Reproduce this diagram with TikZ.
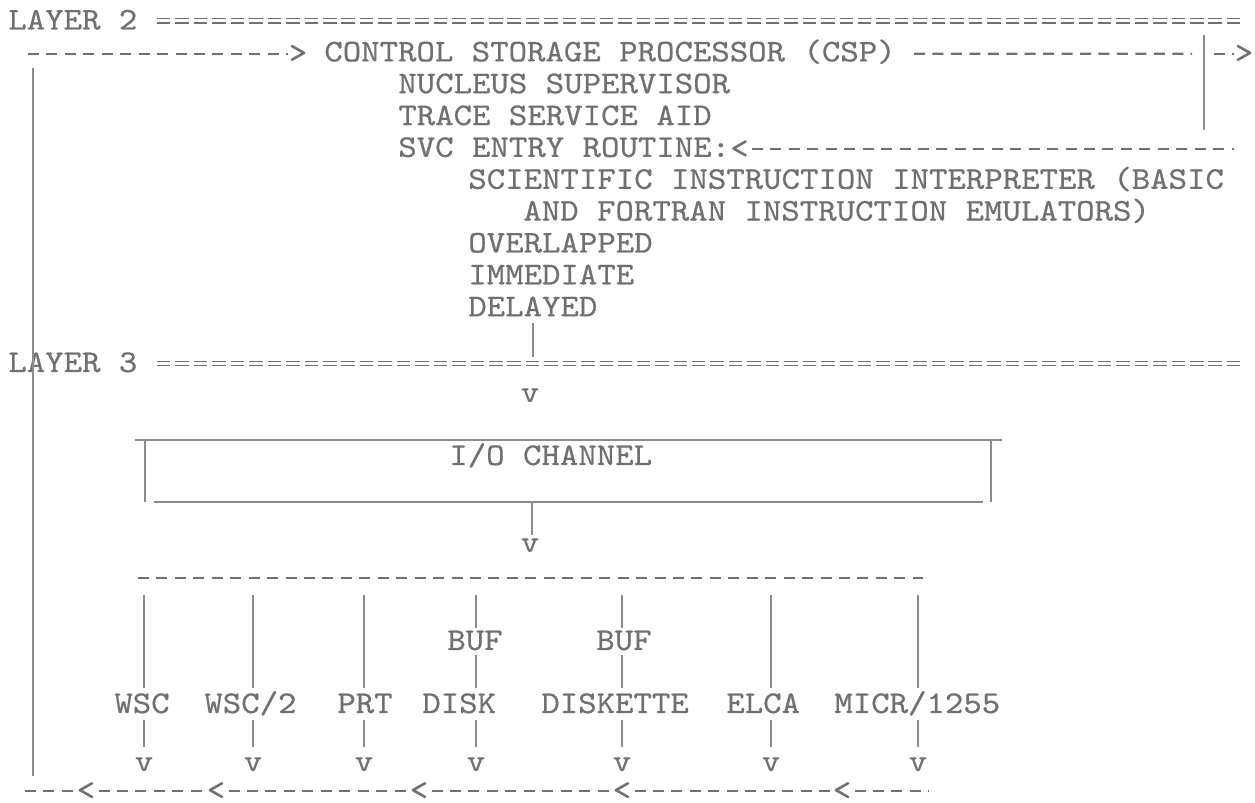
\documentclass[tikz,border=0pt]{standalone}
\usepackage{fontspec}
\newfontfamily\twfont{lmmono10-regular.otf}[FakeStretch=1.11,FakeBold=0.6]
\usepackage{tikz}
\usetikzlibrary{calc}
\definecolor{INK}{HTML}{707070}
\definecolor{LINE}{HTML}{8C8C8C}
\begin{document}
\begin{tikzpicture}[x=0.02cm,y=-0.02cm]
\tikzset{tw/.style={font=\twfont\fontsize{18}{22}\selectfont,text=INK,inner sep=0pt,anchor=base west},
 gl/.style={tw,anchor=base},gc/.style={tw,anchor=center},
 dashln/.style={INK,line width=1.2pt,dash pattern=on 0.22cm off 0.149cm},
 eqrule/.style={draw=INK,double=white,double distance=0.06cm,line width=0.7pt,dash pattern=on 0.27cm off 0.099cm},
 vline/.style={LINE,line width=1pt},boxln/.style={LINE,line width=1.3pt}}
\useasboundingbox (0,0) rectangle (1255,803);
% layer 2
\node[tw] (lay2) at (8,29.5) {LAYER 2};
\draw[eqrule] (157,21) -- (1242,21);
\node[tw] (csp) at (324,61.4) {CONTROL STORAGE PROCESSOR (CSP)};
\node[gc] (gtin) at (298,53.8) {>};
\coordinate (loopT) at (28,53.8);
\draw[dashln] (loopT) -- (gtin.west);
\coordinate (rbar) at (1204,53.8);
\draw[dashln] ($(csp.base east)+(18,-7.6)$) -- ($(rbar)+(-12,0)$);
\draw[vline] (1204,35) -- (1204,130);
\node[gc] (gtout) at (1244,53.8) {>};
\draw[dashln] (1214,53.8) -- (gtout.west);
\node[tw] (nuc) at (398,93.2) {NUCLEUS SUPERVISOR};
\node[tw] (tsa) at (398,125.1) {TRACE SERVICE AID};
\node[tw] (svc) at (398,156.9) {SVC ENTRY ROUTINE:};
\node[gc] (ltin) at ($(svc.base east)+(9,-7.6)$) {<};
\draw[dashln] ($(ltin.east)+(3,0)$) -- (1234,149.3);
\node[tw] (sci) at (468,188.8) {SCIENTIFIC INSTRUCTION INTERPRETER (BASIC};
\node[tw] (fort) at (523,220.6) {AND FORTRAN INSTRUCTION EMULATORS)};
\node[tw] (ovl) at (468,252.5) {OVERLAPPED};
\node[tw] (imm) at (468,284.3) {IMMEDIATE};
\node[tw] (dly) at (468,316.2) {DELAYED};
\draw[vline] (533,323) -- (533,357);
% layer 3
\node[tw] (lay3) at (8,372) {LAYER 3};
\draw[eqrule] (157,363.5) -- (1242,363.5);
\node[gl] (vio) at (530,402) {v};
\node[tw] (ioc) at (449,465) {I/O CHANNEL};
\draw[boxln] (135,440) -- (1002,440);
\draw[boxln] (154,502) -- (983,502);
\draw[vline] (145,441) -- (145,502);
\draw[vline] (991,441) -- (991,502);
\draw[vline] (532,503) -- (532,535);
\node[gl] (vbus) at (530,552) {v};
\draw[dashln] (138,578) -- (923,578);
% devices
\foreach \lab/\lx/\cx [count=\i] in {WSC/114/144,{WSC/2}/204/253,PRT/337/364,ELCA/726/771,{MICR/1255}/834/918}{
 \node[tw] (dev\i) at (\lx,713) {\lab};
 \node[gl] (vd\i) at (\cx,771) {v};
 \draw[vline] (\cx,595) -- (\cx,688);
 \draw[vline,shorten >=0.2cm] (\cx,720) -- (vd\i.north);}
\foreach \lab/\lx/\bx/\cx [count=\i] in {DISK/422/447/476,DISKETTE/541/596/622}{
 \node[tw] (bdev\i) at (\lx,713) {\lab};
 \node[tw] (buf\i) at (\bx,650) {BUF};
 \node[gl] (vb\i) at (\cx,771) {v};
 \draw[vline] (\cx,595) -- (\cx,628);
 \draw[vline] (\cx,655) -- (\cx,688);
 \draw[vline,shorten >=0.2cm] (\cx,720) -- (vb\i.north);}
% return loop
\draw[vline] (33,68) -- (33,776);
\coordinate (bl) at (25,791);
\coordinate (br) at (929,791);
\foreach \px [count=\i] in {86,216,419,622,842}{\node[gc] (lt\i) at (\px,791) {<};}
\draw[dashln] (bl) -- (lt1.west);
\foreach \i [evaluate=\i as \j using int(\i+1)] in {1,...,4}{\draw[dashln] ($(lt\i.east)+(3,0)$) -- (lt\j.west);}
\draw[dashln] ($(lt5.east)+(3,0)$) -- (br);
\end{tikzpicture}
\end{document}
